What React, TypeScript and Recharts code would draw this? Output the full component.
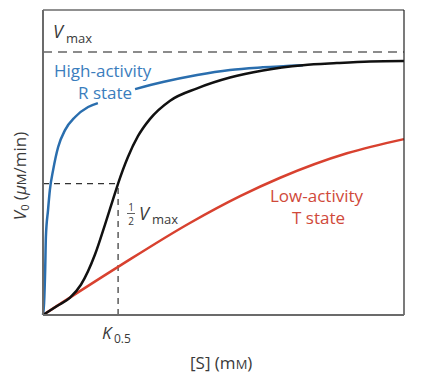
import { LineChart, Line, XAxis, YAxis, ReferenceLine } from 'recharts';

// [S] in arbitrary mM units (0..10 across the plot), V0 as fraction of Vmax
const vmax = 1;
const halfVmax = 0.5;
const kHalf = 2.08;
const sMax = 10;
const vTop = 1.16;

// sigmoid (allosteric enzyme) curve
const sigmoidS = [0, 0.4, 0.75, 1.05, 1.44, 1.72, 1.94, 2.08, 2.35, 2.63, 2.96, 3.52, 4.27, 5.18, 6.09, 7.2, 8.14, 9.06, 10];
const sigmoidV = [0, 0.035, 0.066, 0.115, 0.23, 0.345, 0.44, 0.5, 0.6, 0.68, 0.745, 0.815, 0.862, 0.903, 0.93, 0.95, 0.958, 0.964, 0.966];

// high-activity R state (gap where the label sits)
const rStateS = [0, 0.03, 0.06, 0.08, 0.14, 0.19, 0.28, 0.42, 0.61, 0.89, 1.25, 1.52, 2.0, 2.55, 3.32, 4.27, 5.18, 6.09, 7.2];
const rStateV = [0, 0.046, 0.171, 0.297, 0.4, 0.475, 0.551, 0.639, 0.703, 0.753, 0.791, 0.806, null, 0.859, 0.886, 0.913, 0.932, 0.942, 0.95];

// low-activity T state
const tStateS = [0, 2.08, 4.07, 5.46, 6.57, 8.42, 10];
const tStateV = [0, 0.183, 0.35, 0.452, 0.522, 0.615, 0.669];

const zip = (s: number[], v: (number | null)[]) => s.map((x, i) => ({ s: x, v: v[i] }));

const FONT = '"Open Sans", sans-serif';
const INK = '#3a3a3a';

export default function App() {
  return (
    <div style={{ position: 'absolute', left: 0, top: 0, width: 428, height: 382, background: '#fff' }}>
      <LineChart width={428} height={382} margin={{ top: 10, right: 24, bottom: 67, left: 43 }}>
        <XAxis type="number" dataKey="s" domain={[0, sMax]} hide />
        <YAxis type="number" dataKey="v" domain={[0, vTop]} hide />

        <ReferenceLine y={vmax} stroke="#666" strokeWidth={1.5} strokeDasharray="9 6" />
        <ReferenceLine segment={[{ x: 0, y: halfVmax }, { x: kHalf, y: halfVmax }]} stroke="#333" strokeWidth={1.2} strokeDasharray="6 5" />
        <ReferenceLine segment={[{ x: kHalf, y: 0 }, { x: kHalf, y: halfVmax }]} stroke="#333" strokeWidth={1.2} strokeDasharray="6 5" />

        <Line data={zip(tStateS, tStateV)} dataKey="v" type="monotone" stroke="#d8412f" strokeWidth={2.5} dot={false} isAnimationActive={false} />
        <Line data={zip(rStateS, rStateV)} dataKey="v" type="monotone" stroke="#2a6eae" strokeWidth={2.5} dot={false} isAnimationActive={false} />
        <Line data={zip(sigmoidS, sigmoidV)} dataKey="v" type="monotone" stroke="#111" strokeWidth={2.5} dot={false} isAnimationActive={false} />

        {/* frame */}
        <ReferenceLine y={vTop} stroke="#222" strokeWidth={1.2} />
        <ReferenceLine x={sMax} stroke="#222" strokeWidth={1.2} />
        <ReferenceLine x={0} stroke="#6b6b6b" strokeWidth={2} />
        <ReferenceLine y={0} stroke="#6b6b6b" strokeWidth={2} />

        <g fontFamily={FONT}>
          <text x={53} y={38} fontSize={18} fontStyle="italic" fill={INK}>V</text>
          <text x={66} y={43} fontSize={13} fill={INK}>max</text>

          <text x={54} y={77} fontSize={17} fill="#3a7dbd">High-activity</text>
          <text x={78} y={99} fontSize={17} fill="#3a7dbd">R state</text>

          <text x={270} y={202} fontSize={17} fill="#d0493a">Low-activity</text>
          <text x={292} y={224} fontSize={17} fill="#d0493a">T state</text>

          <text x={131} y={210.5} fontSize={10} textAnchor="middle" fill={INK}>1</text>
          <line x1={127} x2={135} y1={213.5} y2={213.5} stroke={INK} strokeWidth={0.8} />
          <text x={131} y={224.5} fontSize={10} textAnchor="middle" fill={INK}>2</text>
          <text x={139} y={220} fontSize={18} fontStyle="italic" fill={INK}>V</text>
          <text x={152} y={224} fontSize={13} fill={INK}>max</text>

          <text x={102} y={339} fontSize={17} fontStyle="italic" fill={INK}>K</text>
          <text x={114} y={343} fontSize={12} fill={INK}>0.5</text>

          <text x={190} y={369} fontSize={17} fill={INK}>
            [S] (m<tspan fontSize={13}>M</tspan>)
          </text>

          <text x={26} y={176} fontSize={17} fill={INK} textAnchor="middle" transform="rotate(-90, 26, 176)">
            <tspan fontStyle="italic">V</tspan>
            <tspan fontSize={11} dy={3}>0</tspan>
            <tspan dy={-3}> (</tspan>
            <tspan fontStyle="italic">μ</tspan>
            <tspan fontSize={13}>M</tspan>
            <tspan>/min)</tspan>
          </text>
        </g>
      </LineChart>
    </div>
  );
}
